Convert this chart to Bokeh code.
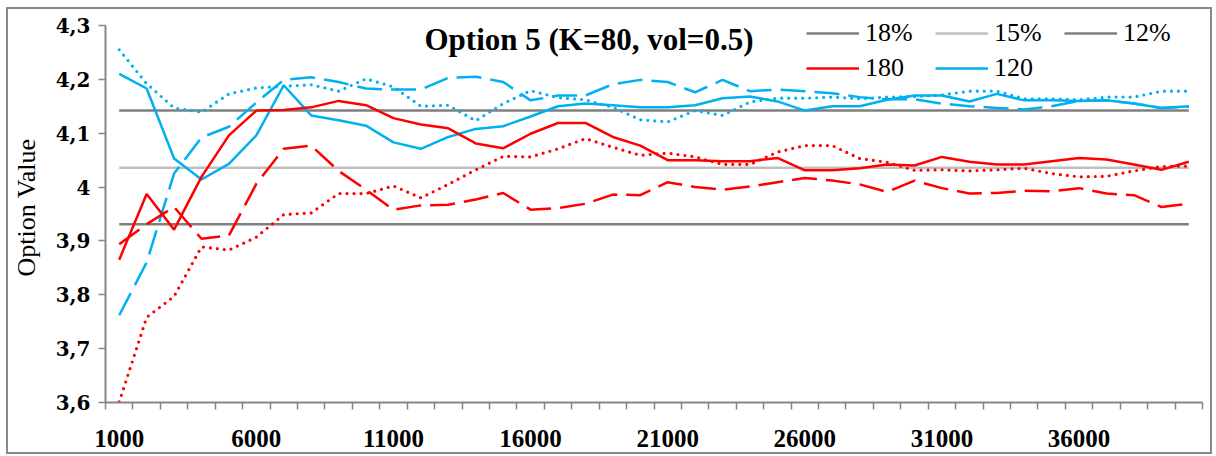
from bokeh.plotting import figure
from bokeh.models import (FixedTicker, Legend, LegendItem, Label, Range1d)
from bokeh.embed import file_html
from bokeh.resources import INLINE

# ---------------- data ----------------
sample_sizes = [1000, 2000, 3000, 4000, 5000, 6000, 7000, 8000, 9000, 10000,
                11000, 12000, 13000, 14000, 15000, 16000, 17000, 18000, 19000, 20000,
                21000, 22000, 23000, 24000, 25000, 26000, 27000, 28000, 29000, 30000,
                31000, 32000, 33000, 34000, 35000, 36000, 37000, 38000, 39000, 40000]
x_tick_labels = [1000, 6000, 11000, 16000, 21000, 26000, 31000, 36000]
y_ticks = [3.6, 3.7, 3.8, 3.9, 4.0, 4.1, 4.2, 4.3]
y_tick_labels = ["3,6", "3,7", "3,8", "3,9", "4", "4,1", "4,2", "4,3"]

level_18 = 4.142
level_15 = 4.036
level_12 = 3.931

red_180 = [3.865, 3.987, 3.921, 4.019, 4.096, 4.142, 4.143, 4.148, 4.160, 4.152,
           4.128, 4.116, 4.109, 4.081, 4.072, 4.099, 4.119, 4.119, 4.093, 4.077,
           4.050, 4.050, 4.048, 4.048, 4.054, 4.031, 4.031, 4.035, 4.042, 4.040,
           4.056, 4.047, 4.042, 4.042, 4.048, 4.054, 4.051, 4.042, 4.032, 4.047]
red_dashed = [3.894, 3.931, 3.963, 3.904, 3.910, 4.006, 4.071, 4.077, 4.030, 3.995,
              3.958, 3.966, 3.967, 3.977, 3.989, 3.958, 3.961, 3.969, 3.986, 3.985,
              4.009, 4.000, 3.995, 4.001, 4.009, 4.017, 4.012, 4.005, 3.991, 4.012,
              3.998, 3.988, 3.989, 3.993, 3.992, 3.998, 3.988, 3.985, 3.963, 3.969]
red_dotted = [3.601, 3.758, 3.797, 3.889, 3.883, 3.907, 3.949, 3.952, 3.988, 3.988,
              4.002, 3.980, 4.005, 4.032, 4.057, 4.056, 4.071, 4.090, 4.074, 4.059,
              4.063, 4.056, 4.042, 4.042, 4.065, 4.077, 4.077, 4.053, 4.046, 4.031,
              4.032, 4.030, 4.032, 4.035, 4.025, 4.019, 4.020, 4.030, 4.038, 4.039]
blue_120 = [4.210, 4.183, 4.053, 4.014, 4.043, 4.096, 4.189, 4.133, 4.124, 4.114,
            4.083, 4.071, 4.093, 4.108, 4.113, 4.131, 4.150, 4.155, 4.152, 4.148,
            4.148, 4.152, 4.165, 4.168, 4.159, 4.142, 4.150, 4.150, 4.162, 4.170,
            4.170, 4.159, 4.173, 4.161, 4.161, 4.160, 4.161, 4.155, 4.147, 4.150]
blue_dashed = [3.762, 3.860, 4.025, 4.092, 4.112, 4.157, 4.199, 4.204, 4.195, 4.183,
               4.181, 4.181, 4.203, 4.205, 4.195, 4.161, 4.170, 4.170, 4.191, 4.199,
               4.195, 4.176, 4.199, 4.178, 4.181, 4.178, 4.174, 4.167, 4.163, 4.163,
               4.155, 4.150, 4.147, 4.144, 4.150, 4.160, 4.161, 4.155, 4.147, 4.149]
blue_dotted = [4.255, 4.192, 4.147, 4.139, 4.173, 4.184, 4.187, 4.190, 4.178, 4.201,
               4.186, 4.150, 4.152, 4.123, 4.155, 4.179, 4.166, 4.162, 4.148, 4.125,
               4.121, 4.142, 4.133, 4.158, 4.165, 4.165, 4.167, 4.164, 4.167, 4.168,
               4.171, 4.178, 4.178, 4.164, 4.164, 4.162, 4.167, 4.167, 4.178, 4.178]

RED = "#FF0000"
BLUE = "#00B0F0"
DARK_GRAY = "#7F7F7F"
LIGHT_GRAY = "#BFBFBF"
AXIS_GRAY = "#868686"
SERIF = "Liberation Serif"

step = sample_sizes[1] - sample_sizes[0]
x_lo = sample_sizes[0] - step / 2
x_hi = sample_sizes[-1] + step / 2
# a little head-room above the 4.3 tick so the legend is not clipped
y_top = y_ticks[-1] + 13 / 539

p = figure(width=1206, height=447, output_backend="svg", toolbar_location=None,
           x_range=Range1d(x_lo, x_hi), y_range=Range1d(y_ticks[0], y_top),
           min_border_left=96, min_border_right=12, min_border_top=3, min_border_bottom=54,
           margin=(7, 0, 0, 6), styles={"border": "2px solid #898989"})
p.outline_line_color = None
p.xgrid.visible = False
p.ygrid.visible = False
p.background_fill_color = "white"
p.border_fill_color = "white"

# reference levels
xs_ends = [sample_sizes[0], sample_sizes[-1]]
r18 = p.line(xs_ends, [level_18, level_18], line_color=DARK_GRAY, line_width=2.5)
r15 = p.line(xs_ends, [level_15, level_15], line_color=LIGHT_GRAY, line_width=2.5)
r12 = p.line(xs_ends, [level_12, level_12], line_color=DARK_GRAY, line_width=2.5)

LW = 2.5
DASH = "25 9"
DOT = "0 7"
p.line(sample_sizes, blue_dotted, line_color=BLUE, line_width=3.2, line_dash=DOT,
       line_cap="round")
p.line(sample_sizes, blue_dashed, line_color=BLUE, line_width=LW, line_dash=DASH)
p.line(sample_sizes, red_dotted, line_color=RED, line_width=3.2, line_dash=DOT,
       line_cap="round")
p.line(sample_sizes, red_dashed, line_color=RED, line_width=LW, line_dash=DASH)
r120 = p.line(sample_sizes, blue_120, line_color=BLUE, line_width=LW)
r180 = p.line(sample_sizes, red_180, line_color=RED, line_width=LW)

# x axis
xa = p.xaxis[0]
xa.ticker = FixedTicker(ticks=x_tick_labels,
                        minor_ticks=[s - step / 2 for s in sample_sizes] + [x_hi])
xa.major_tick_out = 0
xa.major_tick_in = 0
xa.minor_tick_out = 7
xa.minor_tick_in = 0
xa.axis_line_color = AXIS_GRAY
xa.axis_line_width = 2
xa.minor_tick_line_color = AXIS_GRAY
xa.minor_tick_line_width = 1.5
xa.major_label_standoff = 20
xa.major_label_text_font = SERIF
xa.major_label_text_font_style = "bold"
xa.major_label_text_font_size = "25px"
xa.major_label_text_color = "black"
xa.major_label_overrides = {v: str(v) for v in x_tick_labels}

# y axis
ya = p.yaxis[0]
ya.ticker = FixedTicker(ticks=y_ticks, minor_ticks=[])
ya.bounds = (y_ticks[0], y_ticks[-1])
ya.major_label_overrides = dict(zip(y_ticks, y_tick_labels))
ya.major_tick_out = 7
ya.major_tick_in = 0
ya.minor_tick_out = 0
ya.minor_tick_in = 0
ya.axis_line_color = AXIS_GRAY
ya.axis_line_width = 2
ya.major_tick_line_color = AXIS_GRAY
ya.major_tick_line_width = 1.5
ya.major_label_standoff = 8
ya.major_label_text_font = "DejaVu Serif"
ya.major_label_text_font_style = "bold"
ya.major_label_text_font_size = "20px"
ya.major_label_text_color = "black"
ya.axis_label = "Option Value"
ya.axis_label_text_font = SERIF
ya.axis_label_text_font_style = "normal"
ya.axis_label_text_font_size = "26px"
ya.axis_label_text_color = "black"
ya.axis_label_standoff = 12

# title
title = Label(x=18130, y=4.2740, text="Option 5 (K=80, vol=0.5)",
              text_align="center", text_baseline="alphabetic",
              text_font=SERIF, text_font_style="bold", text_font_size="31px",
              text_color="black")
p.add_layout(title)

# legend
legend = Legend(items=[LegendItem(label="18%", renderers=[r18]),
                       LegendItem(label="15%", renderers=[r15]),
                       LegendItem(label="12%", renderers=[r12]),
                       LegendItem(label="180", renderers=[r180]),
                       LegendItem(label="120", renderers=[r120])],
                orientation="horizontal", ncols=3,
                location=(701, 319),
                padding=0, margin=0, spacing=5,
                glyph_width=53, glyph_height=30, label_height=30, label_width=65,
                label_standoff=6,
                label_text_font=SERIF, label_text_font_size="26px",
                label_text_color="black",
                border_line_alpha=0, background_fill_alpha=0)
p.add_layout(legend, "center")

open("out.html", "w").write(file_html(p, INLINE))
